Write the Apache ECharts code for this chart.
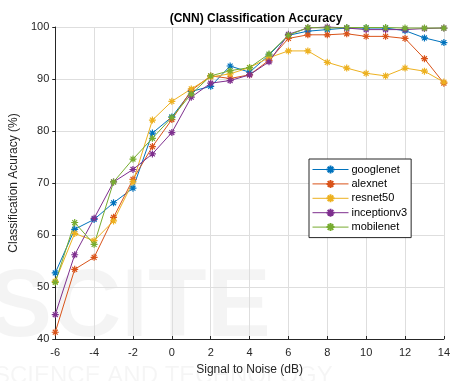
<!DOCTYPE html>
<html>
<head>
<meta charset="utf-8">
<script src="https://cdn.jsdelivr.net/npm/echarts@6/dist/echarts.min.js"></script>
<style>
  html, body { margin: 0; padding: 0; background: #fff; }
  #chart { width: 453px; height: 381px; }
</style>
</head>
<body>
<div id="chart"></div>
<script>
// SNR values (dB)
const snr = [-6, -5, -4, -3, -2, -1, 0, 1, 2, 3, 4, 5, 6, 7, 8, 9, 10, 11, 12, 13, 14]

const googlenet = [52.7, 61.1, 63.0, 66.2, 69.0, 79.6, 82.7, 87.6, 88.6, 92.5, 91.3, 94.6, 98.4, 99.2, 99.5, 99.8, 99.8, 99.8, 99.3, 97.9, 97.0]
const alexnet = [41.3, 53.4, 55.7, 63.4, 70.7, 77.0, 82.2, 87.8, 90.6, 90.1, 90.8, 93.6, 97.8, 98.5, 98.5, 98.7, 98.2, 98.2, 97.8, 93.9, 89.2]
const resnet50 = [51.1, 60.3, 58.9, 62.7, 70.2, 82.1, 85.7, 88.1, 90.4, 91.0, 92.2, 94.1, 95.4, 95.4, 93.2, 92.1, 91.1, 90.6, 92.1, 91.5, 89.4]
const inceptionv3 = [44.7, 56.2, 63.2, 70.2, 72.6, 75.6, 79.7, 86.5, 89.2, 89.7, 90.8, 93.3, 98.6, 99.8, 100.0, 99.8, 99.5, 99.5, 99.5, 99.7, 99.8]
const mobilenet = [50.9, 62.4, 58.2, 70.2, 74.6, 78.6, 82.6, 87.1, 90.6, 91.6, 92.2, 94.8, 98.4, 99.9, 99.8, 99.9, 99.9, 99.9, 99.8, 99.8, 99.8]

const seriesNames = ['googlenet', 'alexnet', 'resnet50', 'inceptionv3', 'mobilenet']
const seriesData = [googlenet, alexnet, resnet50, inceptionv3, mobilenet]
const colors = ['#0072BD', '#D95319', '#EDB120', '#7E2F8E', '#77AC30']

// matlab style asterisk marker
const asterisk = 'path://M0,5L10,5M5,0L5,10M1.5,1.5L8.5,8.5M8.5,1.5L1.5,8.5'

const font = 'Liberation Sans, Arial, Helvetica, sans-serif'

const chart = echarts.init(document.getElementById('chart'), null, { renderer: 'canvas' })

chart.setOption({
  animation: false,
  backgroundColor: '#fff',
  title: {
    text: '(CNN) Classification Accuracy',
    left: 251,
    textAlign: 'center',
    top: 8,
    textStyle: {
      color: '#000',
      fontFamily: font,
      fontSize: 12,
      fontWeight: 'bold'
    }
  },
  // faint publisher watermark in the background
  graphic: [
    {
      type: 'text',
      left: -12,
      top: 262,
      z: -10,
      silent: true,
      style: {
        text: 'SCITE',
        fontFamily: font,
        fontWeight: 'bold',
        fontSize: 96,
        fill: 'rgba(0,0,0,0.045)'
      }
    },
    {
      type: 'text',
      left: -6,
      top: 364,
      z: -10,
      silent: true,
      style: {
        text: 'SCIENCE AND TECHNOLOGY',
        fontFamily: font,
        fontSize: 24,
        fill: 'rgba(0,0,0,0.04)'
      }
    }
  ],
  legend: {
    orient: 'vertical',
    left: 309,
    top: 159,
    padding: [5, 4, 5, 3],
    itemWidth: 36,
    itemHeight: 10,
    itemGap: 3.4,
    borderColor: '#262626',
    borderWidth: 1,
    backgroundColor: '#fff',
    lineStyle: { width: 1 },
    textStyle: {
      color: '#000',
      fontFamily: font,
      fontSize: 11,
      padding: [0, 0, 0, -2]
    },
    data: seriesNames
  },
  grid: {
    left: 54,
    right: 4,
    top: 27,
    bottom: 39,
    containLabel: false
  },
  xAxis: {
    type: 'value',
    min: -6,
    max: 14,
    interval: 2,
    name: 'Signal to Noise (dB)',
    nameLocation: 'middle',
    nameGap: 25,
    nameTextStyle: { color: '#262626', fontFamily: font, fontSize: 12 },
    axisLine: { onZero: false, lineStyle: { color: '#262626', width: 1 } },
    axisTick: { show: true, inside: true, length: 3, lineStyle: { color: '#262626' } },
    axisLabel: { color: '#262626', fontFamily: font, fontSize: 11, margin: 8 },
    splitLine: { show: true, lineStyle: { color: '#dedede', width: 1 } }
  },
  yAxis: {
    type: 'value',
    min: 40,
    max: 100,
    interval: 10,
    name: 'Classification Acuracy (%)',
    nameLocation: 'middle',
    nameGap: 31,
    nameTextStyle: { color: '#262626', fontFamily: font, fontSize: 12 },
    axisLine: { show: true, onZero: false, lineStyle: { color: '#262626', width: 1 } },
    axisTick: { show: true, length: 3, lineStyle: { color: '#262626' } },
    axisLabel: { color: '#262626', fontFamily: font, fontSize: 11, margin: 6 },
    splitLine: { show: true, lineStyle: { color: '#dedede', width: 1 } }
  },
  series: seriesNames.map((name, i) => ({
    name: name,
    type: 'line',
    data: snr.map((x, j) => [x, seriesData[i][j]]),
    symbol: asterisk,
    symbolSize: 7,
    showSymbol: true,
    clip: false,
    lineStyle: { color: colors[i], width: 1 },
    itemStyle: { color: 'transparent', borderColor: colors[i], borderWidth: 1.2 }
  }))
})
</script>
</body>
</html>
